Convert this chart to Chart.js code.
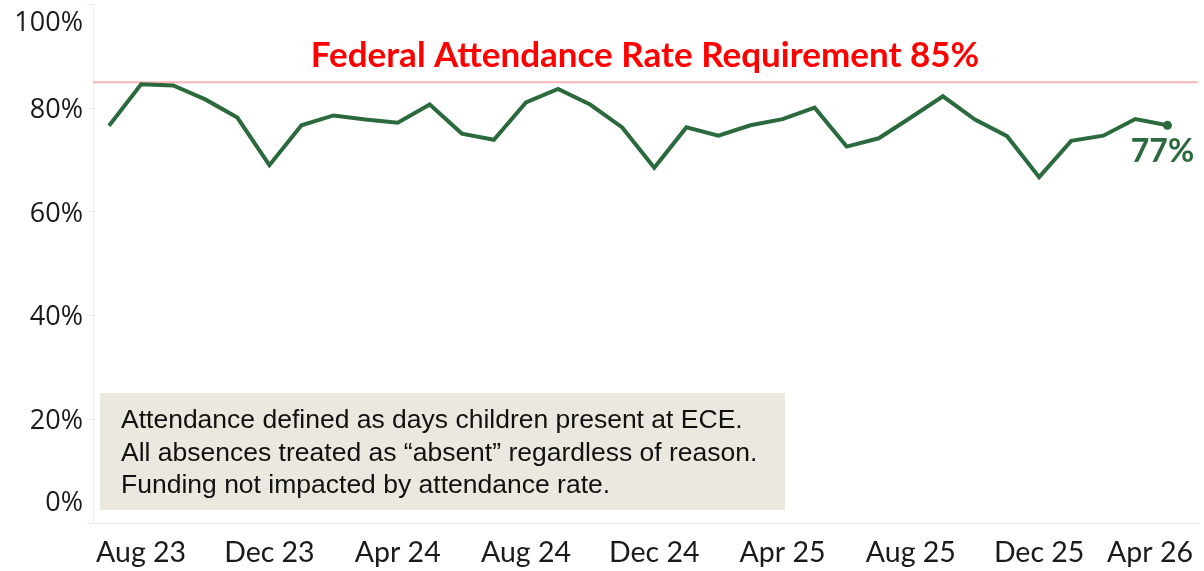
<!DOCTYPE html>
<html>
<head>
<meta charset="utf-8">
<script src="https://cdn.jsdelivr.net/npm/chart.js@4/dist/chart.umd.min.js"></script>
<style>
  html, body { margin: 0; padding: 0; background: #ffffff; }
  #chart { display: block; }
</style>
</head>
<body>
<canvas id="chart" width="1204" height="571"></canvas>
<script>
// Monthly attendance rate, Jul 23 - Apr 26
const months = [
  'Jul 23', 'Aug 23', 'Sep 23', 'Oct 23', 'Nov 23', 'Dec 23',
  'Jan 24', 'Feb 24', 'Mar 24', 'Apr 24', 'May 24', 'Jun 24',
  'Jul 24', 'Aug 24', 'Sep 24', 'Oct 24', 'Nov 24', 'Dec 24',
  'Jan 25', 'Feb 25', 'Mar 25', 'Apr 25', 'May 25', 'Jun 25',
  'Jul 25', 'Aug 25', 'Sep 25', 'Oct 25', 'Nov 25', 'Dec 25',
  'Jan 26', 'Feb 26', 'Mar 26', 'Apr 26'
];
const rates = [
  76.6, 84.6, 84.4, 81.7, 78.2, 69.0,
  76.7, 78.6, 77.8, 77.2, 80.7, 75.1,
  73.9, 81.1, 83.7, 80.7, 76.3, 68.5,
  76.3, 74.7, 76.7, 77.9, 80.1, 72.6,
  74.2, 78.2, 82.3, 77.8, 74.6, 66.7,
  73.7, 74.7, 77.9, 76.7
];
const xTickLabels = ['Aug 23', 'Dec 23', 'Apr 24', 'Aug 24', 'Dec 24', 'Apr 25', 'Aug 25', 'Dec 25', 'Apr 26'];
const yTickValues = [0, 20, 40, 60, 80, 100];
const requirement = 85;
const titleText = 'Federal Attendance Rate Requirement 85%';
const noteLines = [
  'Attendance defined as days children present at ECE.',
  'All absences treated as \u201cabsent\u201d regardless of reason.',
  'Funding not impacted by attendance rate.'
];

const lineColor = '#2a6a3d';
const axisColor = '#ebebeb';

// Extra drawing: requirement line, note box, tick labels, title, end label
const decorations = {
  id: 'decorations',
  beforeDatasetsDraw(chart) {
    const { ctx, chartArea, scales } = chart;
    const y85 = scales.y.getPixelForValue(requirement);
    ctx.save();
    ctx.strokeStyle = '#ffb4b4';
    ctx.lineWidth = 2;
    ctx.beginPath();
    ctx.moveTo(chartArea.left, y85);
    ctx.lineTo(chartArea.right - 2, y85);
    ctx.stroke();

    // note box
    ctx.fillStyle = '#ebe8df';
    ctx.fillRect(100, 393, 685, 117);
    ctx.fillStyle = '#111111';
    ctx.font = '26.5px "Liberation Sans", Arial, sans-serif';
    ctx.textAlign = 'left';
    ctx.textBaseline = 'middle';
    noteLines.forEach((t, i) => ctx.fillText(t, 121, 421 + i * 32.5));
    ctx.restore();
  },
  afterDraw(chart) {
    const { ctx, scales } = chart;
    ctx.save();
    ctx.fillStyle = '#1a1a1a';

    // y labels
    ctx.font = '27px "Open Sans", sans-serif';
    ctx.textAlign = 'right';
    ctx.textBaseline = 'middle';
    yTickValues.forEach(v => {
      let py = scales.y.getPixelForValue(v) + 2;
      py = Math.min(Math.max(py, 23), 503);
      ctx.fillText(v + '%', 83, py);
    });

    // x labels
    ctx.font = '28.5px Lato, sans-serif';
    ctx.textAlign = 'center';
    xTickLabels.forEach(lbl => {
      const idx = months.indexOf(lbl);
      const w = ctx.measureText(lbl).width;
      let px = scales.x.getPixelForValue(idx);
      px = Math.min(px, chart.width - 11 - w / 2);
      ctx.fillText(lbl, px, 553);
    });

    // title
    ctx.fillStyle = '#ff0000';
    ctx.font = 'bold 35px Lato, sans-serif';
    ctx.textAlign = 'center';
    ctx.textBaseline = 'alphabetic';
    ctx.fillText(titleText, 645, 67);

    // last value label
    const last = rates.length - 1;
    ctx.fillStyle = lineColor;
    ctx.font = 'bold 32px Lato, sans-serif';
    ctx.fillText(Math.round(rates[last]) + '%', scales.x.getPixelForValue(last) - 5, 162);
    ctx.restore();
  }
};

new Chart(document.getElementById('chart'), {
  type: 'line',
  data: {
    datasets: [{
      label: 'Attendance rate',
      data: rates.map((v, i) => ({ x: i, y: v })),
      borderColor: lineColor,
      backgroundColor: lineColor,
      borderWidth: 4,
      tension: 0,
      pointRadius: ctx => ctx.dataIndex === rates.length - 1 ? 4.5 : 0,
      pointBackgroundColor: lineColor,
      pointBorderWidth: 0
    }]
  },
  options: {
    responsive: false,
    animation: false,
    devicePixelRatio: 1,
    layout: { padding: { top: -3, right: 4, left: 0, bottom: 0 } },
    plugins: {
      legend: { display: false },
      tooltip: { enabled: false }
    },
    scales: {
      x: {
        type: 'linear',
        min: -0.5,
        max: 34,
        grid: { display: false },
        border: { color: axisColor, width: 1 },
        ticks: { display: false },
        afterFit: s => { s.height = 48; }
      },
      y: {
        min: 0,
        max: 100,
        ticks: { display: false, stepSize: 20 },
        grid: { drawOnChartArea: false, drawTicks: true, tickLength: 6, color: axisColor },
        border: { color: axisColor, width: 1 },
        afterFit: s => { s.width = 93; }
      }
    }
  },
  plugins: [decorations]
});
</script>
</body>
</html>
